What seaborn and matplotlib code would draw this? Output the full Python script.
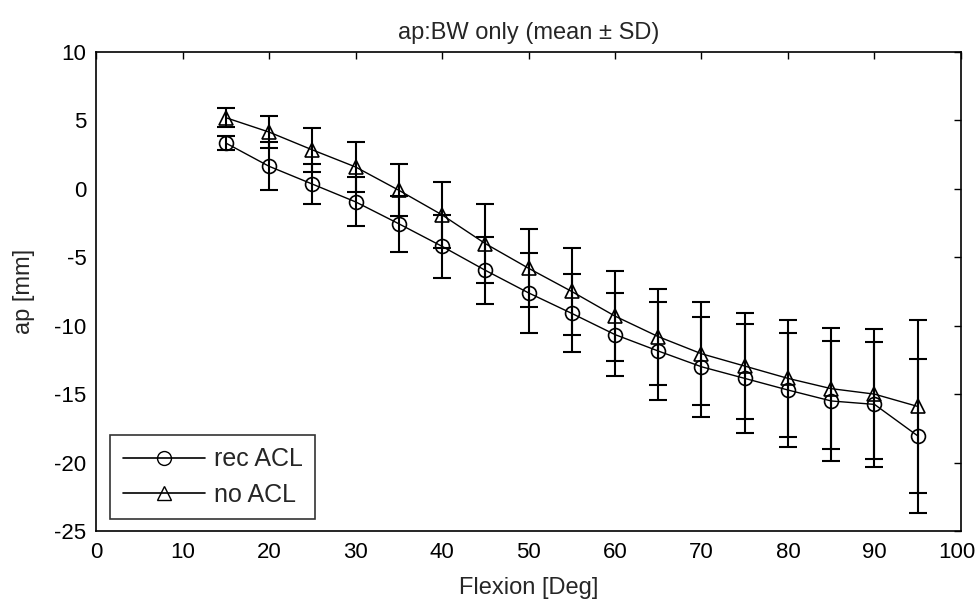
import matplotlib
matplotlib.use("Agg")
import matplotlib.pyplot as plt
import matplotlib.transforms as mtransforms
import seaborn as sns
import pandas as pd
from matplotlib.lines import Line2D

flexion = [15, 20, 25, 30, 35, 40, 45, 50, 55, 60, 65, 70, 75, 80, 85, 90, 95]
rec_mean = [3.35, 1.65, 0.35, -0.95, -2.55, -4.2, -5.95, -7.6, -9.1, -10.65,
            -11.85, -13.0, -13.85, -14.7, -15.5, -15.75, -18.05]
rec_sd = [0.5, 1.75, 1.45, 1.8, 2.05, 2.3, 2.45, 2.9, 2.85, 3.05,
          3.55, 3.65, 4.0, 4.2, 4.4, 4.55, 5.6]
no_mean = [5.2, 4.15, 2.85, 1.6, -0.1, -1.9, -4.0, -5.8, -7.5, -9.3,
           -10.8, -12.05, -12.95, -13.85, -14.6, -15.0, -15.9]
no_sd = [0.7, 1.2, 1.6, 1.8, 1.9, 2.4, 2.9, 2.85, 3.15, 3.3,
         3.5, 3.75, 3.9, 4.25, 4.4, 4.75, 6.3]
series_names = ["rec ACL", "no ACL"]
x_ticks = [0, 10, 20, 30, 40, 50, 60, 70, 80, 90, 100]
y_ticks = [-25, -20, -15, -10, -5, 0, 5, 10]

sns.set_style("white")
plt.rcParams['font.family'] = ['Liberation Sans', 'DejaVu Sans']
plt.rcParams['axes.unicode_minus'] = False

FS = 17
TFS = 16

df = pd.concat([
    pd.DataFrame({"Flexion": flexion, "ap": rec_mean, "sd": rec_sd, "series": series_names[0]}),
    pd.DataFrame({"Flexion": flexion, "ap": no_mean, "sd": no_sd, "series": series_names[1]}),
])

fig = plt.figure(figsize=(9.77, 6.06), dpi=100)
ax = fig.add_axes([0.0983, 0.1238, 0.8853, 0.7904])

markers = {"rec ACL": "o", "no ACL": "^"}
for name in series_names:
    sub = df[df["series"] == name]
    ax.errorbar(sub["Flexion"], sub["ap"], yerr=sub["sd"], fmt="none",
                ecolor="black", elinewidth=1.5, capsize=6.5, capthick=1.5, zorder=2)
    sns.lineplot(data=sub, x="Flexion", y="ap", ax=ax, color="black",
                 marker=markers[name], markersize=10, markerfacecolor="none",
                 markeredgecolor="black", markeredgewidth=1.2, linewidth=1.0,
                 legend=False, zorder=3)

ax.set_xlim(0, 100)
ax.set_ylim(-25, 10)
ax.set_xticks(x_ticks)
ax.set_yticks(y_ticks)
ax.tick_params(direction="in", length=5, width=1, top=True, right=True,
               labelsize=TFS, colors="black")
ax.tick_params(axis="x", pad=8)
ax.tick_params(axis="y", pad=7)
for s in ax.spines.values():
    s.set_visible(True)
    s.set_color("black")
    s.set_linewidth(1.2)

# keep the last x tick label inside the canvas
last = ax.get_xticklabels()[-1]
last.set_transform(last.get_transform() + mtransforms.ScaledTranslation(-3 / 72, 0, fig.dpi_scale_trans))

ax.set_title("ap:BW only (mean \u00b1 SD)", fontsize=FS, pad=9)
ax.set_xlabel("Flexion [Deg]", fontsize=FS, labelpad=10)
ax.set_ylabel("ap [mm]", fontsize=FS, labelpad=14)

handles = [Line2D([], [], color="black", lw=1.2, marker=markers[n], markersize=10,
                  markerfacecolor="none", markeredgecolor="black") for n in series_names]
leg = ax.legend(handles, series_names, loc="lower left", bbox_to_anchor=(0.0162, 0.025),
                fontsize=18, frameon=True, fancybox=False, edgecolor="black",
                handlelength=3.3, handletextpad=0.35, borderpad=0.5, labelspacing=0.45,
                borderaxespad=0)
leg.get_frame().set_linewidth(1.2)

fig.savefig("out.png", dpi=100, facecolor="white")
